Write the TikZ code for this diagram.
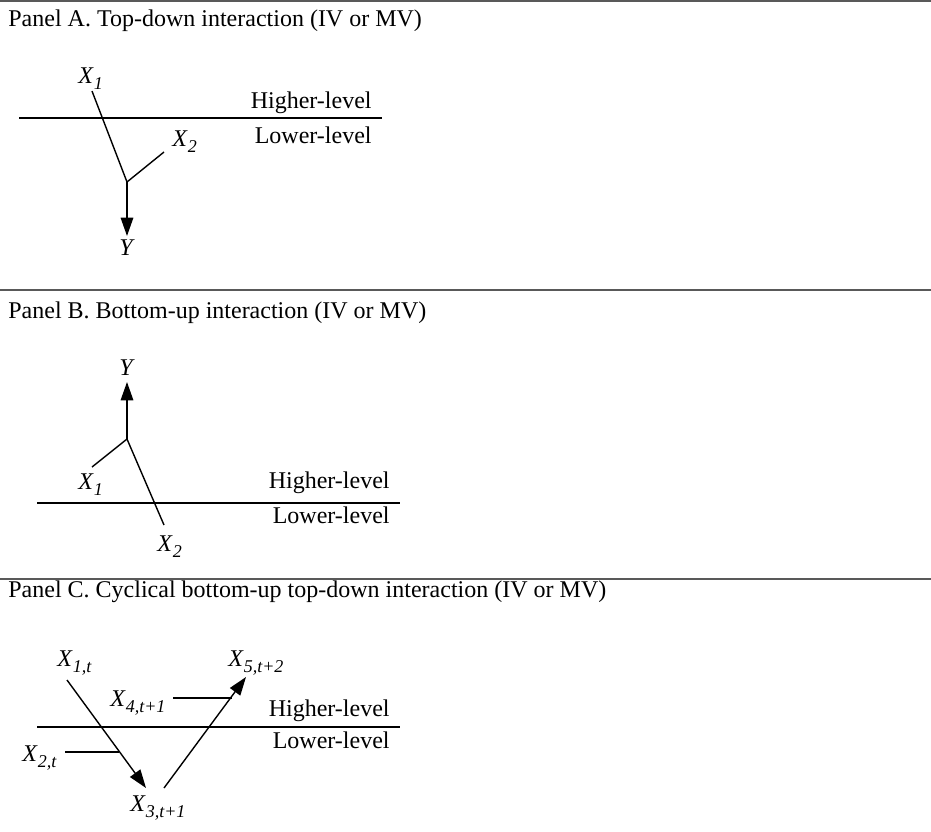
\documentclass[tikz,border=0pt]{standalone}
\usepackage{fontspec}
\setmainfont{Liberation Serif}
\usetikzlibrary{arrows.meta}
\newcommand{\vx}[1]{\textit{X}\raisebox{-3pt}{\fontsize{9}{9}\selectfont\textit{#1}}}
\begin{document}
\begin{tikzpicture}[x=0.5pt,y=-0.5pt,
  txt/.style={inner sep=0pt,font=\fontsize{12}{14}\selectfont},
  lbl/.style={txt,anchor=base west},
  rlbl/.style={txt,anchor=base east},
  rulebar/.style={line width=1pt,draw=black!65},
  level/.style={line width=0.7pt},
  conn/.style={line width=0.7pt},
  arr/.style={line width=0.7pt,-{Triangle[length=9.2pt,width=6.3pt]}}]
\useasboundingbox (0,0) rectangle (931,831);
% ---------- Panel A
\draw[rulebar] (0,1) -- (931,1);
\node[lbl] (tA) at (8,26) {Panel A. Top-down interaction (IV or MV)};
\coordinate (lA1) at (19,118); \coordinate (lA2) at (382,118);
\draw[level] (lA1) -- (lA2);
\node[rlbl] (hA) at (372,108) {Higher-level};
\node[rlbl] (wA) at (372,143) {Lower-level};
\node[lbl] (aX1) at (78,83) {\vx{1}};
\node[lbl] (aX2) at (172,146) {\vx{2}};
\node[txt,anchor=base] (aY) at (127,255) {\textit{Y}};
\coordinate (aS1) at (92,91);
\coordinate (aS2) at (164,152);
\coordinate (aJ) at (127,182);
\coordinate (aT) at (127,236);
\draw[conn] (aS1) -- (aJ);
\draw[conn] (aS2) -- (aJ);
\draw[arr] (aJ) -- (aT);
% ---------- Panel B
\draw[rulebar] (0,290) -- (931,290);
\node[lbl] (tB) at (8,318) {Panel B. Bottom-up interaction (IV or MV)};
\coordinate (lB1) at (37,503); \coordinate (lB2) at (400,503);
\draw[level] (lB1) -- (lB2);
\node[rlbl] (hB) at (390,488) {Higher-level};
\node[rlbl] (wB) at (390,523) {Lower-level};
\node[txt,anchor=base] (bY) at (127,375) {\textit{Y}};
\node[lbl] (bX1) at (78,489) {\vx{1}};
\node[lbl] (bX2) at (157,551) {\vx{2}};
\coordinate (bS1) at (92,467);
\coordinate (bS2) at (164,525);
\coordinate (bJ) at (127,439);
\coordinate (bT) at (127,382);
\draw[conn] (bS1) -- (bJ);
\draw[conn] (bS2) -- (bJ);
\draw[arr] (bJ) -- (bT);
% ---------- Panel C
\draw[rulebar] (0,579) -- (931,579);
\node[lbl] (tC) at (8,597) {Panel C. Cyclical bottom-up top-down interaction (IV or MV)};
\coordinate (lC1) at (37,727); \coordinate (lC2) at (400,727);
\draw[level] (lC1) -- (lC2);
\node[rlbl] (hC) at (390,716) {Higher-level};
\node[rlbl] (wC) at (390,748) {Lower-level};
\node[lbl] (cX1) at (57,666) {\vx{1,t}};
\node[lbl] (cX2) at (22,761) {\vx{2,t}};
\node[lbl] (cX4) at (110,706) {\vx{4,t+1}};
\node[lbl] (cX5) at (228,666) {\vx{5,t+2}};
\node[lbl] (cX3) at (130,811) {\vx{3,t+1}};
\coordinate (cA1) at (67,680);
\coordinate (cA1e) at (146,788);
\coordinate (cA2) at (164,788);
\coordinate (cA2e) at (246,677);
\draw[arr] (cA1) -- (cA1e);
\draw[arr] (cA2) -- (cA2e);
\coordinate (cM2) at (65,752);
\coordinate (cM2e) at (119,752);
\coordinate (cM4) at (173,698);
\coordinate (cM4e) at (232,698);
\draw[conn] (cM2) -- (cM2e);
\draw[conn] (cM4) -- (cM4e);
\end{tikzpicture}
\end{document}
